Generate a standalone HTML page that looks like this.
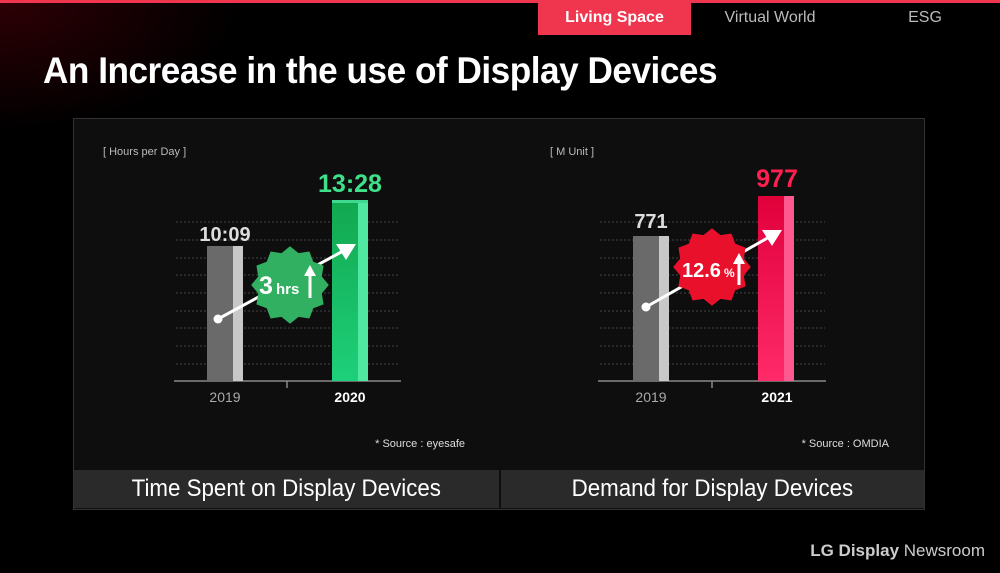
<!DOCTYPE html>
<html><head><style>
body{margin:0;background:#000;width:1000px;height:573px;overflow:hidden;position:relative;font-family:"Liberation Sans",sans-serif;}
.bg{position:absolute;inset:0;background:radial-gradient(ellipse 240px 130px at 0 0,#2e0005,#000 100%);}
.top{position:absolute;left:0;top:0;width:1000px;height:3px;background:#f0364e;}
.tab{position:absolute;top:3px;height:32px;line-height:30px;font-size:16px;color:#bbb;text-align:center;}
.title{position:absolute;left:43px;top:50px;font-size:37px;font-weight:bold;color:#fff;transform:scaleX(.95);transform-origin:left;white-space:nowrap;letter-spacing:-0.5px;}
.panel{position:absolute;left:73px;top:118px;width:852px;height:392px;background:#0e0e0e;border:1px solid #333;box-sizing:border-box;}
.cap{position:absolute;top:470px;height:38px;line-height:38px;background:#2a2a2a;color:#fff;font-size:24px;text-align:center;}
.cap span{display:inline-block;transform:scaleX(.93);}
</style></head><body>
<div class="bg"></div><div class="top"></div>
<div class="tab" style="left:538px;width:153px;background:#f0364e;color:#fff;font-weight:bold;">Living Space</div>
<div class="tab" style="left:700px;width:140px;">Virtual World</div>
<div class="tab" style="left:890px;width:70px;">ESG</div>
<div class="title">An Increase in the use of Display Devices</div>
<div class="panel"></div>
<div class="cap" style="left:74px;width:425px;"><span>Time Spent on Display Devices</span></div>
<div class="cap" style="left:501px;width:423px;"><span>Demand for Display Devices</span></div>
<svg width="1000" height="573" style="position:absolute;left:0;top:0" font-family="Liberation Sans, sans-serif">
<defs>
<linearGradient id="g" x1="0" y1="0" x2="0" y2="1"><stop offset="0" stop-color="#12a850"/><stop offset="1" stop-color="#1ed07a"/></linearGradient>
<linearGradient id="p" x1="0" y1="0" x2="0" y2="1"><stop offset="0" stop-color="#e0003a"/><stop offset="1" stop-color="#ff2a6a"/></linearGradient>
</defs>
<g stroke="#444" stroke-dasharray="2,2" stroke-width="1">
<path d="M176 222H400M176 240H400M176 258H400M176 275H400M176 293H400M176 311H400M176 328H400M176 346H400M176 364H400"/>
<path d="M600 222H825M600 240H825M600 258H825M600 275H825M600 293H825M600 311H825M600 328H825M600 346H825M600 364H825"/>
</g>
<g stroke="#888" stroke-width="1.5"><path d="M174 381H401M287 381V388M598 381H826M712 381V388"/></g>
<text x="103" y="155" fill="#bbb" font-size="11">[ Hours per Day ]</text>
<text x="550" y="155" fill="#bbb" font-size="11">[ M Unit ]</text>
<rect x="207" y="246" width="27" height="135" fill="#6a6a6a"/><rect x="233" y="246" width="10" height="135" fill="#c8c8c8"/>
<rect x="332" y="202" width="27" height="179" fill="url(#g)"/><rect x="358" y="202" width="10" height="179" fill="#50e8a0"/>
<rect x="332" y="200" width="36" height="3" fill="#40d890"/>
<text x="225" y="241" text-anchor="middle" fill="#ddd" font-size="20" font-weight="bold">10:09</text>
<text x="350" y="192" text-anchor="middle" fill="#3ee08a" font-size="25" font-weight="bold">13:28</text>
<line x1="218" y1="319" x2="345" y2="250" stroke="#fff" stroke-width="3"/>
<polygon points="356,244 336,244 346,260" fill="#fff"/>
<circle cx="218" cy="319" r="4.5" fill="#fff"/>
<polygon fill="#30b060" transform="translate(290,285) scale(0.97)" points="40,0 32.8,8.8 34.6,20 24,24 20,34.6 8.8,32.8 0,40 -8.8,32.8 -20,34.6 -24,24 -34.6,20 -32.8,8.8 -40,0 -32.8,-8.8 -34.6,-20 -24,-24 -20,-34.6 -8.8,-32.8 0,-40 8.8,-32.8 20,-34.6 24,-24 34.6,-20 32.8,-8.8"/>
<text x="259" y="294" fill="#fff" font-size="25" font-weight="bold">3</text>
<text x="276" y="294" fill="#fff" font-size="15" font-weight="bold">hrs</text>
<path d="M310 298V274" stroke="#fff" stroke-width="3"/><polygon points="310,265 304,276 316,276" fill="#fff"/>
<rect x="633" y="236" width="27" height="145" fill="#6a6a6a"/><rect x="659" y="236" width="10" height="145" fill="#c8c8c8"/>
<rect x="758" y="196" width="27" height="185" fill="url(#p)"/><rect x="784" y="196" width="10" height="185" fill="#ff5a90"/>
<text x="651" y="228" text-anchor="middle" fill="#ddd" font-size="20" font-weight="bold">771</text>
<text x="777" y="187" text-anchor="middle" fill="#ff2050" font-size="25" font-weight="bold">977</text>
<line x1="646" y1="307" x2="771" y2="236" stroke="#fff" stroke-width="3"/>
<polygon points="782,230 762,230 772,246" fill="#fff"/>
<circle cx="646" cy="307" r="4.5" fill="#fff"/>
<polygon fill="#e8102a" transform="translate(712,267) scale(0.97)" points="40,0 32.8,8.8 34.6,20 24,24 20,34.6 8.8,32.8 0,40 -8.8,32.8 -20,34.6 -24,24 -34.6,20 -32.8,8.8 -40,0 -32.8,-8.8 -34.6,-20 -24,-24 -20,-34.6 -8.8,-32.8 0,-40 8.8,-32.8 20,-34.6 24,-24 34.6,-20 32.8,-8.8"/>
<text x="682" y="277" fill="#fff" font-size="20" font-weight="bold">12.6</text>
<text x="724" y="277" fill="#fff" font-size="12" font-weight="bold">%</text>
<path d="M739 285V262" stroke="#fff" stroke-width="3"/><polygon points="739,253 733,264 745,264" fill="#fff"/>
<g font-size="14" text-anchor="middle">
<text x="225" y="402" fill="#aaa">2019</text><text x="350" y="402" fill="#fff" font-weight="bold">2020</text>
<text x="651" y="402" fill="#aaa">2019</text><text x="777" y="402" fill="#fff" font-weight="bold">2021</text>
</g>
<text x="465" y="447" text-anchor="end" fill="#ddd" font-size="11">* Source : eyesafe</text>
<text x="889" y="447" text-anchor="end" fill="#ddd" font-size="11">* Source : OMDIA</text>
<text x="985" y="556" text-anchor="end" fill="#ccc" font-size="17"><tspan font-weight="bold">LG Display</tspan> Newsroom</text>
</svg>
</body></html>
